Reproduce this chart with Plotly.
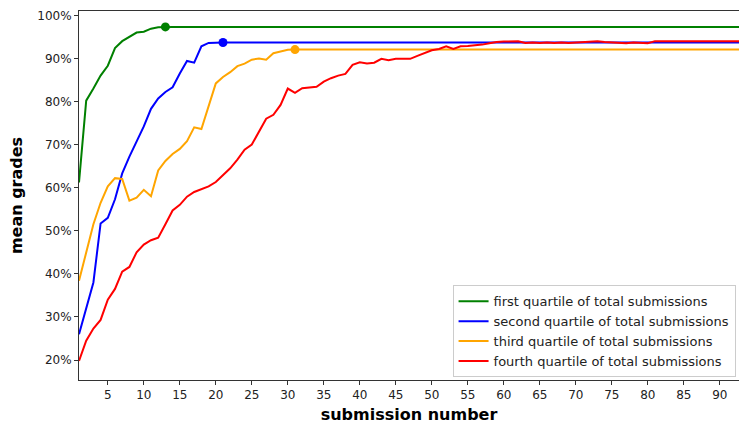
import plotly.graph_objects as go

# Mean grade (%) at each submission number, one series per quartile of total submissions
submission = list(range(1, 94))

first_quartile = [
    61.2, 80.2, 83.0, 86.0, 88.3, 92.4, 94.0, 95.1, 96.0, 96.2,
    96.9, 97.2, 97.3, 97.3, 97.3, 97.3, 97.3, 97.3, 97.3, 97.3,
    97.3, 97.3, 97.3, 97.3, 97.3, 97.3, 97.3, 97.3, 97.3, 97.3,
    97.3, 97.3, 97.3, 97.3, 97.3, 97.3, 97.3, 97.3, 97.3, 97.3,
    97.3, 97.3, 97.3, 97.3, 97.3, 97.3, 97.3, 97.3, 97.3, 97.3,
    97.3, 97.3, 97.3, 97.3, 97.3, 97.3, 97.3, 97.3, 97.3, 97.3,
    97.3, 97.3, 97.3, 97.3, 97.3, 97.3, 97.3, 97.3, 97.3, 97.3,
    97.3, 97.3, 97.3, 97.3, 97.3, 97.3, 97.3, 97.3, 97.3, 97.3,
    97.3, 97.3, 97.3, 97.3, 97.3, 97.3, 97.3, 97.3, 97.3, 97.3,
    97.3, 97.3, 97.3,
]

second_quartile = [
    26.0, 32.0, 38.0, 51.7, 53.0, 57.3, 63.3, 67.2, 70.7, 74.2,
    78.3, 80.7, 82.2, 83.3, 86.5, 89.4, 89.0, 92.8, 93.6, 93.7,
    93.7, 93.7, 93.7, 93.7, 93.7, 93.7, 93.7, 93.7, 93.7, 93.7,
    93.7, 93.7, 93.7, 93.7, 93.7, 93.7, 93.7, 93.7, 93.7, 93.7,
    93.7, 93.7, 93.7, 93.7, 93.7, 93.7, 93.7, 93.7, 93.7, 93.7,
    93.7, 93.7, 93.7, 93.7, 93.7, 93.7, 93.7, 93.7, 93.7, 93.7,
    93.7, 93.7, 93.7, 93.7, 93.7, 93.7, 93.7, 93.7, 93.7, 93.7,
    93.7, 93.7, 93.7, 93.7, 93.7, 93.7, 93.7, 93.7, 93.7, 93.7,
    93.7, 93.7, 93.7, 93.7, 93.7, 93.7, 93.7, 93.7, 93.7, 93.7,
    93.7, 93.7, 93.7,
]

third_quartile = [
    38.4, 45.0, 51.5, 56.5, 60.3, 62.2, 62.0, 57.0, 57.7, 59.5,
    58.0, 64.0, 66.2, 67.8, 69.0, 70.8, 74.0, 73.6, 78.8, 84.2,
    85.7, 86.8, 88.2, 88.8, 89.7, 90.0, 89.7, 91.2, 91.6, 92.0,
    92.05, 92.05, 92.05, 92.05, 92.05, 92.05, 92.05, 92.05, 92.05, 92.05,
    92.05, 92.05, 92.05, 92.05, 92.05, 92.05, 92.05, 92.05, 92.05, 92.05,
    92.05, 92.05, 92.05, 92.05, 92.05, 92.05, 92.05, 92.05, 92.05, 92.05,
    92.05, 92.05, 92.05, 92.05, 92.05, 92.05, 92.05, 92.05, 92.05, 92.05,
    92.05, 92.05, 92.05, 92.05, 92.05, 92.05, 92.05, 92.05, 92.05, 92.05,
    92.05, 92.05, 92.05, 92.05, 92.05, 92.05, 92.05, 92.05, 92.05, 92.05,
    92.05, 92.05, 92.05,
]

fourth_quartile = [
    19.8, 24.5, 27.3, 29.3, 34.0, 36.5, 40.5, 41.6, 45.0, 46.8,
    47.8, 48.4, 51.5, 54.7, 56.0, 57.9, 59.0, 59.6, 60.3, 61.3,
    63.0, 64.5, 66.5, 68.8, 70.0, 73.0, 76.0, 76.9, 79.2, 83.0,
    82.0, 83.1, 83.2, 83.4, 84.6, 85.4, 86.0, 86.4, 88.5, 89.1,
    88.8, 89.0, 89.9, 89.6, 89.9, 89.9, 89.9, 90.6, 91.3, 91.9,
    92.2, 92.8, 92.2, 92.8, 92.9, 93.0, 93.2, 93.5, 93.8, 93.9,
    94.0, 94.0, 93.6, 93.7, 93.6, 93.7, 93.6, 93.7, 93.6, 93.7,
    93.9, 94.0, 94.0, 93.8, 93.7, 93.6, 93.5, 93.7, 93.6, 93.5,
    94.0, 94.0, 94.0, 94.0, 94.0, 94.0, 94.0, 94.0, 94.0, 94.0,
    94.0, 94.0, 94.0,
]

series_names = [
    "first quartile of total submissions",
    "second quartile of total submissions",
    "third quartile of total submissions",
    "fourth quartile of total submissions",
]
series_values = [first_quartile, second_quartile, third_quartile, fourth_quartile]
series_colors = ["green", "blue", "orange", "red"]

# Submission at which each of the first three groups levels off
plateau_submission = [13, 21, 31]

y_ticks = [20, 30, 40, 50, 60, 70, 80, 90, 100]
x_ticks = list(range(5, 95, 5))

FONT = "DejaVu Sans"

fig = go.Figure()

for name, values, color in zip(series_names, series_values, series_colors):
    fig.add_trace(go.Scatter(
        x=submission, y=values, mode="lines", name=name,
        line=dict(color=color, width=2),
    ))

for n, values, color in zip(plateau_submission, series_values, series_colors):
    fig.add_trace(go.Scatter(
        x=[n], y=[values[n - 1]], mode="markers", showlegend=False,
        marker=dict(color=color, size=9, line=dict(width=0)),
    ))

fig.update_layout(
    width=739, height=424,
    margin=dict(l=79, r=0, t=11, b=44),
    paper_bgcolor="white", plot_bgcolor="white",
    font=dict(family=FONT, size=12, color="#222222"),
    showlegend=True,
    legend=dict(
        x=0.566, y=0.2566, xanchor="left", yanchor="top",
        bgcolor="rgba(255,255,255,0.85)", bordercolor="#cccccc", borderwidth=1,
        font=dict(family=FONT, size=13, color="#222222"),
        tracegroupgap=0, itemwidth=30,
    ),
)

fig.update_xaxes(
    range=[1, 92.67], tickvals=x_ticks, ticktext=[str(t) for t in x_ticks],
    ticks="outside", ticklen=4, tickcolor="#333333", tickwidth=1,
    showline=True, linecolor="#333333", linewidth=1, mirror=True,
    showgrid=False, zeroline=False,
    tickfont=dict(family=FONT, size=12, color="#222222"),
    title=dict(text="<b>submission number</b>", standoff=8,
               font=dict(family=FONT, size=16, color="black")),
)

fig.update_yaxes(
    range=[15.36, 101.0], tickvals=y_ticks, ticktext=[f"{t}%" for t in y_ticks],
    ticks="outside", ticklen=4, tickcolor="#333333", tickwidth=1,
    showline=True, linecolor="#333333", linewidth=1, mirror=False,
    showgrid=False, zeroline=False,
    tickfont=dict(family=FONT, size=12, color="#222222"),
    title=dict(text="<b>mean grades</b>", standoff=10,
               font=dict(family=FONT, size=16, color="black")),
)

fig.write_html("out.html")
